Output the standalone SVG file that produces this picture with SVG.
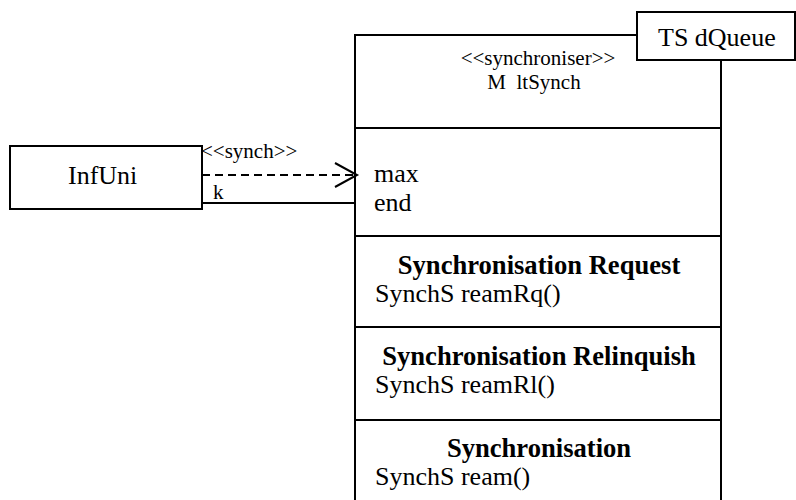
<svg xmlns="http://www.w3.org/2000/svg" width="796" height="500" viewBox="0 0 796 500">
  <style>
    .box { fill: #fff; stroke: #000; stroke-width: 2; }
    .line { stroke: #000; stroke-width: 2; fill: none; }
    .t { font-family: "Liberation Serif", "Times New Roman", serif; fill: #000; white-space: pre; }
    .big { font-size: 26px; }
    .small { font-size: 21px; }
    .b { font-weight: bold; font-size: 26.6px; }
    .c { text-anchor: middle; }
  </style>
  <rect width="796" height="500" fill="#fff"/>

  <!-- synchroniser class -->
  <g id="MultSynch">
    <rect class="box" x="355" y="35" width="366" height="480"/>
    <line class="line" x1="355" y1="128" x2="721" y2="128"/>
    <line class="line" x1="355" y1="236" x2="721" y2="236"/>
    <line class="line" x1="355" y1="327" x2="721" y2="327"/>
    <line class="line" x1="355" y1="420" x2="721" y2="420"/>
    <text class="t small c" x="538" y="65">&lt;&lt;synchroniser&gt;&gt;</text>
    <text class="t small c" x="534" y="89">M  ltSynch</text>
    <text class="t big" x="374" y="182">max</text>
    <text class="t big" x="374" y="211">end</text>
    <text class="t b c" x="539" y="273.5">Synchronisation Request</text>
    <text class="t big" x="375" y="302">SynchS reamRq()</text>
    <text class="t b c" x="539" y="364.5">Synchronisation Relinquish</text>
    <text class="t big" x="375" y="393">SynchS reamRl()</text>
    <text class="t b c" x="539" y="456.5">Synchronisation</text>
    <text class="t big" x="375" y="485">SynchS ream()</text>
  </g>

  <!-- template parameter -->
  <g id="TSdQueue">
    <rect class="box" x="637" y="12" width="158" height="48"/>
    <text class="t big" x="658" y="46">TS dQueue</text>
  </g>

  <!-- client class -->
  <g id="InfUni">
    <rect class="box" x="10" y="146" width="192" height="63"/>
    <text class="t big" x="68" y="184">InfUni</text>
  </g>

  <!-- connectors -->
  <g id="connectors">
    <line class="line" x1="202" y1="175" x2="355" y2="175" stroke-dasharray="8,5"/>
    <polyline class="line" points="335,163 357,175 335,187"/>
    <line class="line" x1="202" y1="203" x2="355" y2="203"/>
    <text class="t small" x="201" y="158">&lt;&lt;synch&gt;&gt;</text>
    <text class="t small" x="213" y="199">k</text>
  </g>
</svg>
